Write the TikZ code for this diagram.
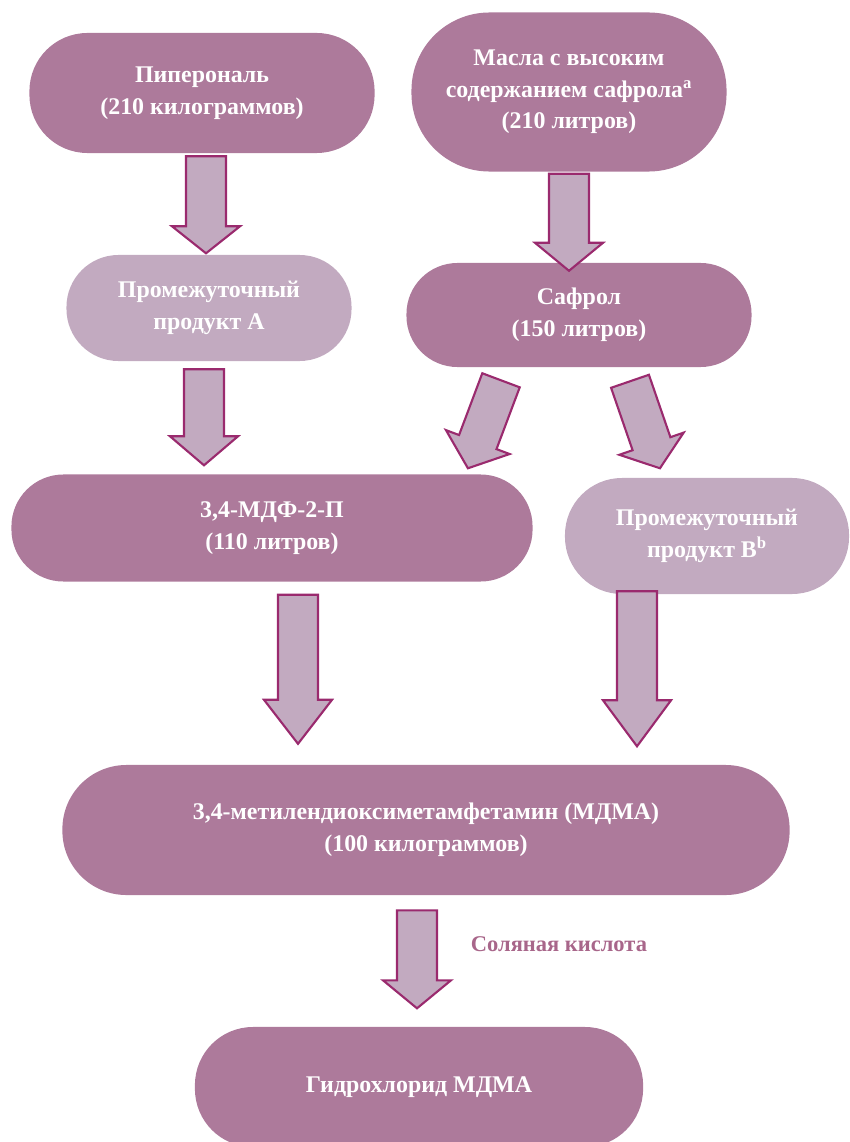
\documentclass[tikz,border=0pt]{standalone}
\usepackage{fontspec}
\setmainfont{Liberation Serif}
\usetikzlibrary{calc}

\definecolor{plumdark}{HTML}{AD7A9B}
\definecolor{plumlight}{HTML}{C2AAC0}
\definecolor{plumedge}{HTML}{9A2A6E}
\definecolor{plumtext}{HTML}{A8668A}

\newcommand{\boxfont}{\bfseries\fontsize{17}{22.5}\selectfont}

% block arrow: start, angle, neck, length
\newcommand{\blockarrow}[4]{%
    \begin{scope}[shift={#1}, rotate=#2]
        \draw[arrowbody] (-20,0) -- (20,0) -- (20,#3) -- (34,#3) -- (0,#4) -- (-34,#3) -- (-20,#3) -- cycle;
    \end{scope}}

\tikzset{
    darkbox/.style = {fill = plumdark, text = white, align = center, font = \boxfont, inner sep = 0pt},
    lightbox/.style = {darkbox, fill = plumlight},
    arrowbody/.style = {fill = plumlight, draw = plumedge, line width = 1.5pt, line join = miter},
}

\begin{document}
\begin{tikzpicture}[x = 0.025cm, y = -0.025cm]
        \useasboundingbox (0,0) rectangle (849,1142);
        \clip (0,0) rectangle (849,1142);
        \begin{scope}
            \node[darkbox, minimum width = 8.625cm, minimum height = 3cm, rounded corners = 1.45cm] (piperonal) at (202,93) {Пиперональ\\(210 килограммов)};
            \node[darkbox, minimum width = 7.875cm, minimum height = 3.975cm, rounded corners = 1.95cm] (oils) at (569,92) {Масла с высоким\\содержанием сафрола\textsuperscript{a}\\(210 литров)};
            \node[lightbox, minimum width = 7.125cm, minimum height = 2.65cm, rounded corners = 1.3cm] (interA) at (209,308) {Промежуточный\\продукт А};
            \node[darkbox, minimum width = 8.625cm, minimum height = 2.6cm, rounded corners = 1.275cm] (safrole) at (579,315) {Сафрол\\(150 литров)};
            \node[darkbox, minimum width = 13.025cm, minimum height = 2.675cm, rounded corners = 1.3cm] (mdp) at (272,528) {3,4-МДФ-2-П\\(110 литров)};
            \node[lightbox, minimum width = 7.1cm, minimum height = 2.9cm, rounded corners = 1.425cm] (interB) at (707,536) {Промежуточный\\продукт B\textsuperscript{b}};
            \node[darkbox, minimum width = 18.175cm, minimum height = 3.25cm, rounded corners = 1.6cm] (mdma) at (426,830) {3,4-метилендиоксиметамфетамин (МДМА)\\(100 килограммов)};
            \node[darkbox, minimum width = 11.2cm, minimum height = 3cm, rounded corners = 1.45cm] (mdmahcl) at (419,1087) {Гидрохлорид МДМА};
        \end{scope}
        \blockarrow{($(piperonal.south)+(4,3)$)}{0}{70}{97}
        \blockarrow{($(oils.south)+(0,2)$)}{0}{69}{97}
        \blockarrow{($(interA.south)+(-5,8)$)}{0}{67}{96}
        \blockarrow{($(safrole.south)+(-78,13)$)}{-20.6}{66}{94}
        \blockarrow{($(safrole.south)+(51,14)$)}{19}{66}{92}
        \blockarrow{($(mdp.south)+(26,13)$)}{0}{105}{149}
        \blockarrow{($(interB.south)+(-70,-3)$)}{0}{109}{155}
        \blockarrow{($(mdma.south)+(-9,15)$)}{0}{70}{98}
        \node[anchor = west, text = plumtext, font = \bfseries\fontsize{16}{19}\selectfont] (acid) at (466,944) {Соляная кислота};
    \end{tikzpicture}
\end{document}
